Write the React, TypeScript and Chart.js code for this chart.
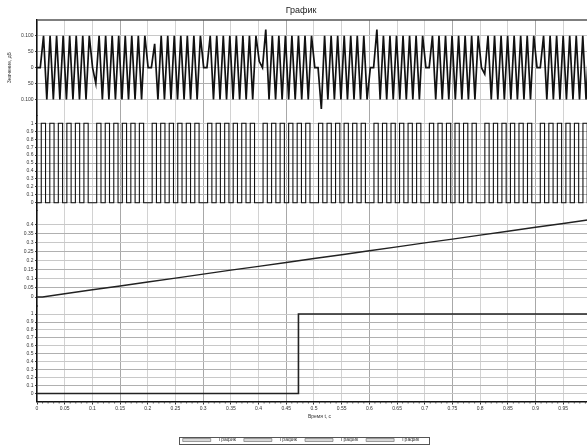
import React, { useEffect, useRef } from 'react';
import { Chart, registerables } from 'chart.js';

Chart.register(...registerables);

// ---------- text ----------
const TITLE = 'График';
const X_TITLE = 'Время t, с';
const Y_TITLE = 'Значение, дБ';
const LEGEND_LABELS = ['График', 'График', 'График', 'График'];

// ---------- axes ----------
const X_MIN = 0;
const X_MAX = 1.02;
const X_TICKS = [0, 0.05, 0.1, 0.15, 0.2, 0.25, 0.3, 0.35, 0.4, 0.45, 0.5, 0.55, 0.6, 0.65, 0.7, 0.75, 0.8, 0.85, 0.9, 0.95, 1];
const X_TICK_LABELS = ['0', '0.05', '0.1', '0.15', '0.2', '0.25', '0.3', '0.35', '0.4', '0.45', '0.5', '0.55', '0.6', '0.65', '0.7', '0.75', '0.8', '0.85', '0.9', '0.95', '1'];

const A_RANGE = [-0.15, 0.15];
const A_TICKS = [-0.1, -0.05, 0, 0.05, 0.1];
const A_TICK_LABELS = ['0.100', '50', '0', '50', '0.100'];

const B_RANGE = [-0.1, 1.1];
const B_TICKS = [0, 0.1, 0.2, 0.3, 0.4, 0.5, 0.6, 0.7, 0.8, 0.9, 1];
const B_TICK_LABELS = ['0', '0.1', '0.2', '0.3', '0.4', '0.5', '0.6', '0.7', '0.8', '0.9', '1'];

const C_RANGE = [-0.05, 0.475];
const C_TICKS = [0, 0.05, 0.1, 0.15, 0.2, 0.25, 0.3, 0.35, 0.4];
const C_TICK_LABELS = ['0', '0.05', '0.1', '0.15', '0.2', '0.25', '0.3', '0.35', '0.4'];

const D_RANGE = [-0.1, 1.1];
const D_TICKS = [0, 0.1, 0.2, 0.3, 0.4, 0.5, 0.6, 0.7, 0.8, 0.9, 1];
const D_TICK_LABELS = ['0', '0.1', '0.2', '0.3', '0.4', '0.5', '0.6', '0.7', '0.8', '0.9', '1'];

// ---------- data ----------
// panel 1: oscillating signal, sampled at every extreme
const WAVE_STEP = 0.0059;
const WAVE = [
  0, 0,
  0.1, -0.1, 0.1, -0.1, 0.1, -0.1, 0.1, -0.1, 0.1, -0.1, 0.1, -0.1, 0.1, -0.1, 0.1, 0, -0.05,
  0.1, -0.1, 0.1, -0.1, 0.1, -0.1, 0.1, -0.1, 0.1, -0.1, 0.1, -0.1, 0.1, -0.1, 0.1, 0, 0,
  0.075, -0.1, 0.1, -0.1, 0.1, -0.1, 0.1, -0.1, 0.1, -0.1, 0.1, -0.1, 0.1, -0.1, 0.1, 0, 0,
  0.1, -0.1, 0.1, -0.1, 0.1, -0.1, 0.1, -0.1, 0.1, -0.1, 0.1, -0.1, 0.1, -0.1, 0.1, 0.02, 0,
  0.12, -0.1, 0.1, -0.1, 0.1, -0.1, 0.1, -0.1, 0.1, -0.1, 0.1, -0.1, 0.1, -0.1, 0.1, 0, 0,
  -0.13, 0.1, -0.1, 0.1, -0.1, 0.1, -0.1, 0.1, -0.1, 0.1, -0.1, 0.1, -0.1, 0.1, -0.1, 0, 0,
  0.12, -0.1, 0.1, -0.1, 0.1, -0.1, 0.1, -0.1, 0.1, -0.1, 0.1, -0.1, 0.1, -0.1, 0.1, 0, 0,
  0.1, -0.1, 0.1, -0.1, 0.1, -0.1, 0.1, -0.1, 0.1, -0.1, 0.1, -0.1, 0.1, -0.1, 0.1, 0, -0.02,
  0.1, -0.1, 0.1, -0.1, 0.1, -0.1, 0.1, -0.1, 0.1, -0.1, 0.1, -0.1, 0.1, -0.1, 0.1, 0, 0,
  0.1, -0.1, 0.1, -0.1, 0.1, -0.1, 0.1, -0.1, 0.1, -0.1, 0.1, -0.1, 0.1, -0.1, 0.1, 0, 0,
  0.1, -0.1,
];

// panel 2: pulse train (0/1), one value per sample
const PULSE_STEP = 0.0077;
const PULSE = [
  0,
  1, 0, 1, 0, 1, 0, 1, 0, 1, 0, 1, 0, 0,
  1, 0, 1, 0, 1, 0, 1, 0, 1, 0, 1, 0, 0,
  1, 0, 1, 0, 1, 0, 1, 0, 1, 0, 1, 0, 0,
  1, 0, 1, 0, 1, 0, 1, 0, 1, 0, 1, 0, 0,
  1, 0, 1, 0, 1, 0, 1, 0, 1, 0, 1, 0, 0,
  1, 0, 1, 0, 1, 0, 1, 0, 1, 0, 1, 0, 0,
  1, 0, 1, 0, 1, 0, 1, 0, 1, 0, 1, 0, 0,
  1, 0, 1, 0, 1, 0, 1, 0, 1, 0, 1, 0, 0,
  1, 0, 1, 0, 1, 0, 1, 0, 1, 0, 1, 0, 0,
  1, 0, 1, 0, 1, 0, 1, 0, 1, 0, 1, 0, 0,
  1, 0, 1,
];

// panel 3: ramp
const RAMP_T = [0, 0.01, 0.05, 0.1, 0.15, 0.2, 0.25, 0.3, 0.35, 0.4, 0.45, 0.5, 0.55, 0.6, 0.65, 0.7, 0.75, 0.8, 0.85, 0.9, 0.95, 1, 1.02];
const RAMP_V = [0, 0, 0.018, 0.04, 0.061, 0.083, 0.104, 0.126, 0.148, 0.169, 0.19, 0.212, 0.233, 0.255, 0.276, 0.298, 0.319, 0.341, 0.362, 0.384, 0.405, 0.427, 0.435];

// panel 4: step
const STEP_T = [0, 0.472, 0.472, 1.02];
const STEP_V = [0, 0, 1, 1];

const FONT_FAMILY = '"Liberation Sans Narrow", "Liberation Sans", Arial, sans-serif';

function yAxis(range: number[], ticks: number[], labels: string[], extra: any = {}) {
  return {
    type: 'linear',
    position: 'left',
    stack: 'panels',
    stackWeight: 1,
    min: range[0],
    max: range[1],
    afterBuildTicks: (axis: any) => {
      axis.ticks = ticks.map((v) => ({ value: v }));
    },
    afterFit: (axis: any) => {
      axis.width = 37;
    },
    ticks: {
      autoSkip: false,
      callback: (_v: any, i: number) => labels[i],
      font: { size: 5, family: FONT_FAMILY },
      color: '#333',
      padding: 1.5,
    },
    grid: {
      color: (c: any) => (c.index % 2 === 1 ? '#b0b0b0' : '#c8c8c8'),
      lineWidth: 1,
      tickLength: 2,
      tickColor: '#444',
    },
    border: { color: '#111', width: 1.5 },
    ...extra,
  };
}

const decorPlugin = {
  id: 'decor',
  afterDraw(chart: any) {
    const { ctx, chartArea, scales } = chart;
    ctx.save();
    // top frame line
    ctx.strokeStyle = '#555';
    ctx.lineWidth = 1.5;
    ctx.beginPath();
    ctx.moveTo(chartArea.left, chartArea.top);
    ctx.lineTo(chartArea.right, chartArea.top);
    ctx.stroke();
    // minor ticks on x axis
    const xs = scales.x;
    ctx.strokeStyle = '#333';
    ctx.lineWidth = 0.8;
    ctx.beginPath();
    const t = xs.ticks;
    for (let i = 0; i < t.length - 1; i++) {
      const a = t[i].value;
      const b = t[i + 1].value;
      for (let k = 1; k < 5; k++) {
        const px = xs.getPixelForValue(a + ((b - a) * k) / 5);
        ctx.moveTo(px, xs.top);
        ctx.lineTo(px, xs.top + 2);
      }
    }
    ctx.stroke();
    // legend frame
    const hb = chart.legend && chart.legend.legendHitBoxes;
    if (hb && hb.length) {
      let l = Infinity;
      let r = -Infinity;
      hb.forEach((h: any) => {
        l = Math.min(l, h.left);
        r = Math.max(r, h.left + h.width);
      });
      const cy = hb[0].top + hb[0].height / 2;
      ctx.strokeStyle = '#555';
      ctx.lineWidth = 1;
      ctx.strokeRect(Math.round(l - 4) + 0.5, Math.round(cy - 3.5) + 0.5, Math.round(r - l + 13), 7);
    }
    ctx.restore();
  },
};

export default function App() {
  const ref = useRef<HTMLCanvasElement>(null);

  useEffect(() => {
    const waveData = WAVE.map((v, i) => ({ x: i * WAVE_STEP, y: v }));
    const pulseData = PULSE.map((v, i) => ({ x: i * PULSE_STEP, y: v }));
    const rampData = RAMP_T.map((tt, i) => ({ x: tt, y: RAMP_V[i] }));
    const stepData = STEP_T.map((tt, i) => ({ x: tt, y: STEP_V[i] }));

    const chart = new Chart(ref.current as HTMLCanvasElement, {
      type: 'line',
      data: {
        datasets: [
          { label: LEGEND_LABELS[0], data: waveData, yAxisID: 'yA', borderColor: '#111', borderWidth: 1.7, pointRadius: 0, tension: 0 },
          { label: LEGEND_LABELS[1], data: pulseData, yAxisID: 'yB', borderColor: '#111', borderWidth: 1.1, pointRadius: 0, stepped: true },
          { label: LEGEND_LABELS[2], data: rampData, yAxisID: 'yC', borderColor: '#222', borderWidth: 1.4, pointRadius: 0 },
          { label: LEGEND_LABELS[3], data: stepData, yAxisID: 'yD', borderColor: '#222', borderWidth: 1.6, pointRadius: 0 },
        ],
      },
      options: {
        responsive: false,
        animation: false,
        devicePixelRatio: 1,
        layout: { padding: { left: 0, right: 4, top: 0, bottom: 0 } },
        plugins: {
          title: {
            display: true,
            text: TITLE,
            color: '#222',
            font: { size: 9, family: '"Liberation Sans", Arial, sans-serif', weight: 'normal' },
            padding: { top: 5.6, bottom: 3.6 },
          },
          legend: {
            display: true,
            position: 'bottom',
            maxHeight: 18.5,
            labels: {
              boxWidth: 28,
              boxHeight: 3,
              padding: 8,
              color: '#333',
              font: { size: 5, family: FONT_FAMILY },
              generateLabels: (c: any) =>
                c.data.datasets.map((ds: any, i: number) => ({
                  text: '\u00a0\u00a0\u00a0\u00a0' + ds.label,
                  fillStyle: '#d8d8d8',
                  strokeStyle: '#666',
                  lineWidth: 0.6,
                  hidden: false,
                  datasetIndex: i,
                  fontColor: '#333',
                })),
            },
          },
          tooltip: { enabled: false },
        },
        scales: {
          x: {
            type: 'linear',
            position: 'bottom',
            min: X_MIN,
            max: X_MAX,
            afterBuildTicks: (axis: any) => {
              axis.ticks = X_TICKS.map((v) => ({ value: v }));
            },
            afterFit: (axis: any) => {
              axis.height = 28;
            },
            ticks: {
              autoSkip: false,
              maxRotation: 0,
              callback: (_v: any, i: number) => X_TICK_LABELS[i],
              font: { size: 5, family: FONT_FAMILY },
              color: '#333',
              padding: 1,
            },
            grid: {
              color: (c: any) => (c.index % 3 === 0 && c.index > 0 ? '#a8a8a8' : '#d2d2d2'),
              lineWidth: 1,
              tickLength: 3,
              tickColor: '#333',
            },
            border: { color: '#111', width: 1.5 },
            title: {
              display: true,
              text: X_TITLE,
              color: '#333',
              font: { size: 5, family: FONT_FAMILY },
              padding: { top: 0, bottom: 9.5 },
            },
          },
          yD: yAxis(D_RANGE, D_TICKS, D_TICK_LABELS),
          yC: yAxis(C_RANGE, C_TICKS, C_TICK_LABELS),
          yB: yAxis(B_RANGE, B_TICKS, B_TICK_LABELS),
          yA: yAxis(A_RANGE, A_TICKS, A_TICK_LABELS, {
            title: {
              display: true,
              text: Y_TITLE,
              color: '#333',
              font: { size: 5, family: FONT_FAMILY },
              padding: { top: 7, bottom: 0 },
            },
          }),
        },
      } as any,
      plugins: [decorPlugin],
    } as any);

    return () => chart.destroy();
  }, []);

  return (
    <div style={{ position: 'fixed', left: 0, top: 0, width: 587, height: 448, overflow: 'hidden', background: '#fff' }}>
      <canvas ref={ref} width={606} height={448} style={{ display: 'block', width: 606, height: 448 }} />
    </div>
  );
}
